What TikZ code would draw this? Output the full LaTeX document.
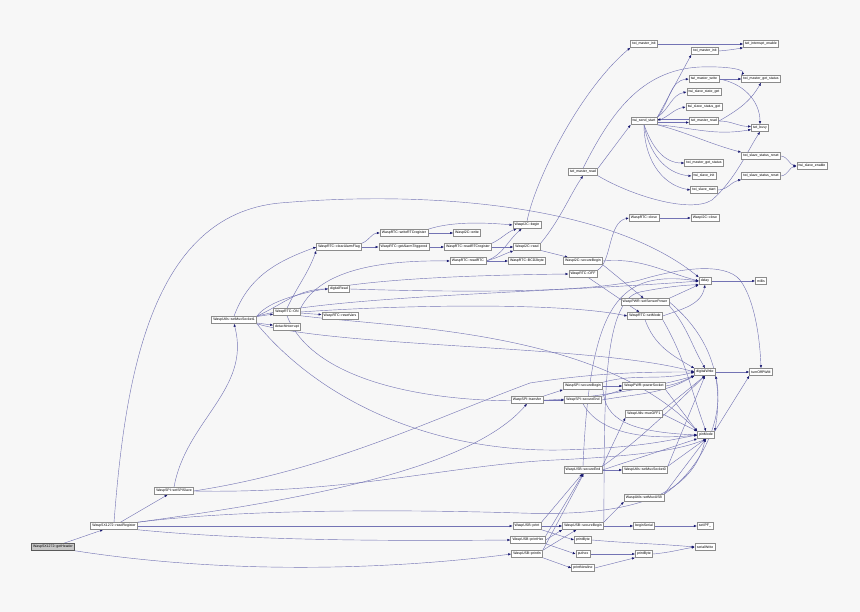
\documentclass[tikz,border=0pt]{standalone}
\usepackage{fontspec}
\setmainfont{Liberation Sans}
\usetikzlibrary{arrows.meta}
\pgfdeclarelayer{back}\pgfdeclarelayer{edges}\pgfsetlayers{back,edges,main}
\definecolor{bgc}{HTML}{F7F7F7}
\definecolor{edgec}{RGB}{115,115,180}
\definecolor{arrc}{HTML}{191970}
\definecolor{boxc}{HTML}{8C8C8C}
\tikzset{
 fn/.style={draw=boxc, fill=white, line width=0.5pt, font=\fontsize{3.5}{4}\selectfont, inner xsep=1.8pt, inner ysep=0pt, minimum height=7pt},
 root/.style={fn, fill=black!22, draw=black!65},
 edge/.style={draw=edgec, line width=0.42pt, -{Latex[length=3pt,width=2.4pt,color=arrc]}}
}
\begin{document}
\begin{tikzpicture}[x=1pt,y=-1pt]
\begin{pgfonlayer}{back}\fill[bgc] (0,0) rectangle (860,612);\end{pgfonlayer}
\useasboundingbox (0,0) rectangle (860,612);
% nodes
\node[root] (gh) at (53,547) {WaspSX1272::getHeader};
\node[fn] (rr) at (114,526) {WaspSX1272::readRegister};
\node[fn] (sss) at (174,491) {WaspSPI::setSPISlave};
\node[fn] (ms1) at (234,320) {WaspUtils::setMuxSocket1};
\node[fn] (on) at (287,312) {WaspRTC::ON};
\node[fn] (detach) at (287,327) {detachInterrupt};
\node[fn] (drd) at (339,289) {digitalRead};
\node[fn] (rv) at (340,316) {WaspRTC::resetVars};
\node[fn] (caf) at (339,247) {WaspRTC::clearAlarmFlag};
\node[fn] (wrr) at (404,233) {WaspRTC::writeRTCregister};
\node[fn] (gat) at (404,247) {WaspRTC::getAlarmTriggered};
\node[fn] (iw) at (467,233) {WaspI2C::write};
\node[fn] (rrr) at (468,247) {WaspRTC::readRTCregister};
\node[fn] (rrtc) at (468,261) {WaspRTC::readRTC};
\node[fn] (ib) at (527,225) {WaspI2C::begin};
\node[fn] (ird) at (527,247) {WaspI2C::read};
\node[fn] (bcd) at (527,261) {WaspRTC::BCD2byte};
\node[fn] (isb) at (583,261) {WaspI2C::secureBegin};
\node[fn] (off) at (583,274) {WaspRTC::OFF};
\node[fn] (tmra) at (583,172) {twi\_master\_read};
\node[fn] (tmia) at (644,44) {twi\_master\_init};
\node[fn] (tss) at (644,121) {twi\_send\_start};
\node[fn] (rclose) at (644,218) {WaspRTC::close};
\node[fn] (ssp) at (645,302) {WaspPWR::setSensorPower};
\node[fn] (smode) at (645,316) {WaspRTC::setMode};
\node[fn] (tmib) at (705,51) {twi\_master\_init};
\node[fn] (tmw) at (704,79) {twi\_master\_write};
\node[fn] (tssg) at (704,92) {twi\_slave\_state\_get};
\node[fn] (tsstg) at (704,107) {twi\_slave\_status\_get};
\node[fn] (tmrb) at (704,121) {twi\_master\_read};
\node[fn] (tmgsb) at (704,163) {twi\_master\_get\_status};
\node[fn] (tsi) at (704,176) {twi\_slave\_init};
\node[fn] (tsst) at (704,190) {twi\_slave\_start};
\node[fn] (iclose) at (705,218) {WaspI2C::close};
\node[fn] (delay) at (705,281) {delay};
\node[fn] (tie) at (761,44) {twi\_interrupt\_enable};
\node[fn] (tmgs) at (761,79) {twi\_master\_get\_status};
\node[fn] (tbusy) at (760,128) {twi\_busy};
\node[fn] (tsra) at (761,156) {twi\_slave\_status\_reset};
\node[fn] (tsrb) at (761,176) {twi\_slave\_status\_reset};
\node[fn] (millis) at (761,281) {millis};
\node[fn] (tse) at (812,166) {twi\_slave\_enable};
\node[fn] (dw) at (705,372) {digitalWrite};
\node[fn] (topwm) at (761,372) {turnOffPWM};
\node[fn] (spisb) at (583,386) {WaspSPI::secureBegin};
\node[fn] (ps) at (644,386) {WaspPWR::powerSocket};
\node[fn] (tr) at (527,400) {WaspSPI::transfer};
\node[fn] (spise) at (583,400) {WaspSPI::secureEnd};
\node[fn] (muxoff) at (644,414) {WaspUtils::muxOFF1};
\node[fn] (pm) at (706,435) {pinMode};
\node[fn] (usbse) at (583,470) {WaspUSB::secureEnd};
\node[fn] (ms0) at (645,470) {WaspUtils::setMuxSocket0};
\node[fn] (musb) at (644,498) {WaspUtils::setMuxUSB};
\node[fn] (pr) at (527,526) {WaspUSB::print};
\node[fn] (usbsb) at (583,526) {WaspUSB::secureBegin};
\node[fn] (bs) at (644,526) {beginSerial};
\node[fn] (ipf) at (705,526) {setIPF\_};
\node[fn] (prh) at (528,540) {WaspUSB::printHex};
\node[fn] (pb1) at (583,540) {printByte};
\node[fn] (sw) at (705,547) {serialWrite};
\node[fn] (pln) at (527,554) {WaspUSB::println};
\node[fn] (ph) at (583,554) {puthex};
\node[fn] (pb2) at (644,554) {printByte};
\node[fn] (pnl) at (583,568) {printNewline};
% edges
\begin{pgfonlayer}{edges}
\draw[edge] (gh) -- (rr);
\draw[edge] (gh.south east) .. controls (250,578) and (420,566) .. (pln.west);
\draw[edge] (rr) -- (sss);
\draw[edge] (rr.north) .. controls (125,380) and (150,215) .. (280,203) .. controls (430,190) and (610,205) .. (delay.north west);
\draw[edge] (rr.north east) .. controls (300,500) and (470,470) .. (tr.south);
\draw[edge] (rr) -- (pr);
\draw[edge] (rr.south east) .. controls (250,541) and (400,541) .. (prh.west);
\draw[edge] (rr.north east) .. controls (250,508) and (420,510) .. (520,513) .. controls (610,516) and (690,505) .. (pm.-100);
\draw[edge] (sss.north) to[out=80,in=-75] (ms1.south);
\draw[edge] (sss.east) .. controls (330,470) and (430,420) .. (530,383) .. controls (600,372) and (650,372) .. (dw.west);
\draw[edge] (sss.east) .. controls (350,494) and (450,465) .. (555,460) .. controls (640,456) and (680,450) .. (pm.-80);
\draw[edge] (ms1) -- (on);
\draw[edge] (ms1) -- (detach);
\draw[edge] (ms1.north east) to[out=25,in=180] (drd.west);
\draw[edge] (ms1.north) to[out=70,in=200] (caf.west);
\draw[edge] (ms1.north east) .. controls (280,285) and (400,276) .. (off.west);
\draw[edge] (ms1.north east) .. controls (330,296) and (560,292) .. (delay.west);
\draw[edge] (ms1.south east) .. controls (340,348) and (600,345) .. (dw.west);
\draw[edge] (ms1.south east) .. controls (320,400) and (430,452) .. (560,450) .. controls (640,448) and (670,440) .. (pm.west);
\draw[edge] (on) -- (rv);
\draw[edge] (on.north) to[out=65,in=-110] (caf.south west);
\draw[edge] (on.north east) .. controls (320,270) and (380,260) .. (rrtc.west);
\draw[edge] (on.east) .. controls (400,305) and (560,302) .. (smode.west);
\draw[edge] (on.south east) .. controls (400,328) and (600,330) .. (pm.north west);
\draw[edge] (on.south) .. controls (320,400) and (500,410) .. (600,395) .. controls (650,388) and (680,380) .. (dw.south west);
\draw[edge] (caf.north east) to[out=20,in=180] (wrr.west);
\draw[edge] (caf) -- (gat);
\draw[edge] (gat) -- (rrr);
\draw[edge] (wrr) -- (iw);
\draw[edge] (wrr.north east) .. controls (450,222) and (480,222) .. (ib.west);
\draw[edge] (rrr.north east) to[out=25,in=200] (ib.-160);
\draw[edge] (rrr) -- (ird);
\draw[edge] (rrtc.east) to[out=20,in=220] (ib.-145);
\draw[edge] (rrtc.east) to[out=15,in=200] (ird.south west);
\draw[edge] (rrtc) -- (bcd);
\draw[edge] (ib.north) .. controls (535,180) and (580,90) .. (tmia.south west);
\draw[edge] (ird.north east) .. controls (560,220) and (570,195) .. (tmra.south);
\draw[edge] (ird) -- (isb);
\draw[edge] (isb.east) to[out=5,in=165] (delay.west);
\draw[edge] (isb.south east) -- (ssp.110);
\draw[edge] (off.north east) .. controls (612,262) and (608,222) .. (rclose.west);
\draw[edge] (off) -- (smode);
\draw[edge] (rclose) -- (iclose);
\draw[edge] (tmra.north east) -- (tss.south west);
\draw[edge] (tmra.north) .. controls (610,115) and (640,70) .. (700,67) .. controls (730,66) and (745,70) .. (tmgs.north west);
\draw[edge] (tmra.south east) .. controls (630,195) and (690,214) .. (712,200) .. controls (735,180) and (748,150) .. (tbusy.south);
\draw[edge] (tmia) -- (tie);
\draw[edge] (tmib.east) to[out=5,in=190] (tie.south west);
\draw[edge] (tss.north east) -- (tmib.south west);
\draw[edge] (tss.north east) to[out=50,in=185] (tmw.west);
\draw[edge] (tss.north east) to[out=35,in=190] (tssg.west);
\draw[edge] (tss.east) to[out=20,in=190] (tsstg.west);
\draw[edge] ([yshift=-1.5pt]tss.east) -- ([yshift=-1.5pt]tmrb.west);
\draw[edge] ([yshift=1.5pt]tmrb.west) -- ([yshift=1.5pt]tss.east);
\draw[edge] (tss.south east) to[out=-5,in=190] (tbusy.190);
\draw[edge] (tss.south east) to[out=-15,in=165] (tsra.north west);
\draw[edge] (tss.south) to[out=-70,in=180] (tmgsb.west);
\draw[edge] (tss.south) to[out=-80,in=175] (tsi.west);
\draw[edge] (tss.south) to[out=-90,in=170] (tsst.west);
\draw[edge] (tmw) -- (tmgs);
\draw[edge] (tmw.east) to[out=-10,in=90] (tbusy.north);
\draw[edge] (tmrb.east) to[out=0,in=180] (tbusy.170);
\draw[edge] (tmrb.east) to[out=30,in=-120] (tmgs.south);
\draw[edge] (tsra.east) to[out=-5,in=170] (tse.west);
\draw[edge] (tsrb.east) to[out=5,in=190] (tse.west);
\draw[edge] (tsst.east) to[out=0,in=190] (tsrb.south west);
\draw[edge] (delay) -- (millis);
\draw[edge] (ssp.north east) -- (delay.south west);
\draw[edge] (smode.east) to[out=20,in=-100] (delay.south);
\draw[edge] (drd.east) .. controls (480,293) and (590,292) .. (640,280) .. controls (680,268) and (725,262) .. (740,280) .. controls (755,300) and (760,340) .. (topwm.north);
\draw[edge] (smode.south) to[out=-70,in=150] (dw.north west);
\draw[edge] (smode.south east) to[out=-60,in=110] (pm.north);
\draw[edge] (ssp.south east) to[out=-50,in=120] (dw.north);
\draw[edge] (ssp.east) to[out=-40,in=80] (pm.north east);
\draw[edge] (dw) -- (topwm);
\draw[edge] (pm.north east) -- (topwm.south west);
\draw[edge] (tr.north east) -- (spisb.south west);
\draw[edge] (tr) -- (spise);
\draw[edge] (spisb) -- (ps);
\draw[edge] (spisb.north east) to[out=15,in=195] (dw.west);
\draw[edge] (spisb.south east) .. controls (605,420) and (630,432) .. (pm.west);
\draw[edge] (ps.east) to[out=10,in=205] (dw.south west);
\draw[edge] (ps.south east) -- (pm.north west);
\draw[edge] (spise.north east) -- (ps.south west);
\draw[edge] (spise.east) to[out=10,in=210] (dw.south west);
\draw[edge] (spise.south) .. controls (600,435) and (650,440) .. (pm.west);
\draw[edge] (muxoff.east) -- (pm.north west);
\draw[edge] (muxoff.north east) -- (dw.south);
\draw[edge] (usbse.north east) -- (muxoff.south west);
\draw[edge] (usbse) -- (ms0);
\draw[edge] (usbse.north) .. controls (590,300) and (620,270) .. (delay.west);
\draw[edge] (usbsb.north east) .. controls (605,420) and (600,300) .. (640,292) .. controls (665,287) and (685,285) .. (delay.south west);
\draw[edge] (usbse.north east) .. controls (640,440) and (680,400) .. (dw.south);
\draw[edge] (usbse.east) -- (pm.south west);
\draw[edge] (ms0.north east) -- (dw.south);
\draw[edge] (ms0.north east) -- (pm.south);
\draw[edge] (musb.north east) .. controls (700,470) and (725,420) .. (dw.south east);
\draw[edge] (musb.north east) -- (pm.south);
\draw[edge] (usbsb.north east) -- (musb.south west);
\draw[edge] (usbsb) -- (bs);
\draw[edge] (bs) -- (ipf);
\draw[edge] (pr.north east) -- (usbse.-100);
\draw[edge] (prh.north east) -- (usbse.-90);
\draw[edge] (pln.north east) -- (usbse.-80);
\draw[edge] (pr) -- (usbsb);
\draw[edge] (prh.east) -- (usbsb.south west);
\draw[edge] (pln.north east) -- (usbsb.-150);
\draw[edge] (pr.south east) -- (pb1.west);
\draw[edge] (pb1.east) to[out=-5,in=175] (sw.west);
\draw[edge] (prh.south east) -- (ph.west);
\draw[edge] (ph) -- (pb2);
\draw[edge] (pb2.east) to[out=5,in=190] (sw.west);
\draw[edge] (pln.south east) -- (pnl.west);
\draw[edge] (pnl.east) -- (pb2.south west);
\end{pgfonlayer}
\end{tikzpicture}
\end{document}
